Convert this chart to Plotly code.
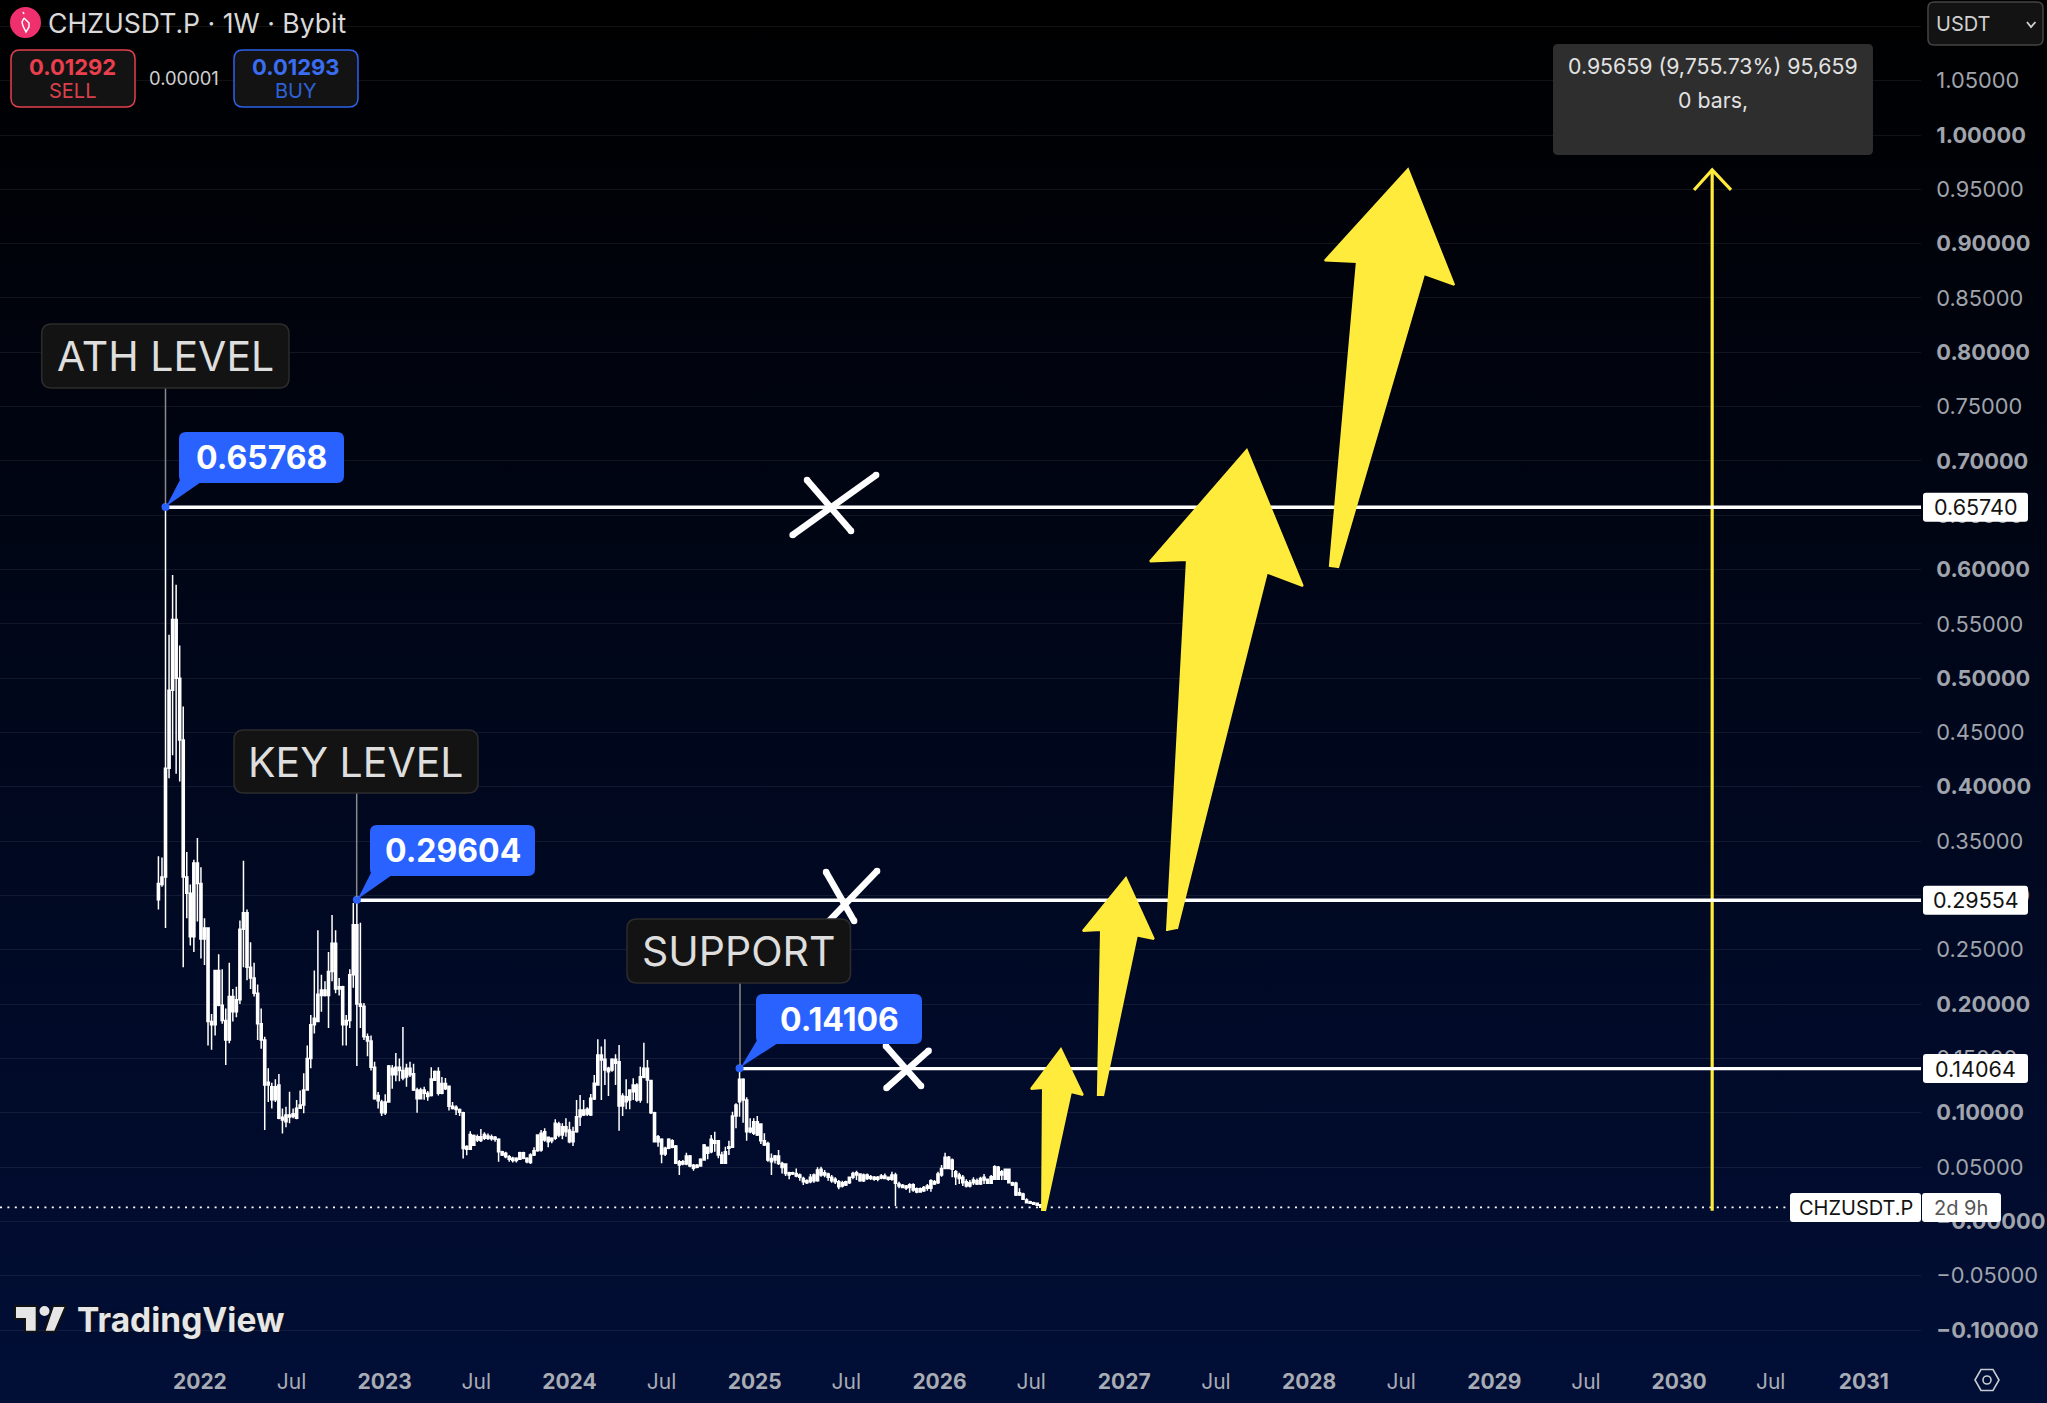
import pandas as pd
import plotly.graph_objects as go

# weekly candles (only the body extents can be told apart, all bars are white)
FIRST_WEEK = "2021-10-11"
HIGH = [
    .336,.335,.65768,.540,.595,.586,.530,.474,.340,.310,
    .333,.353,.326,.279,.270,.191,.231,.246,.232,.196,
    .238,.214,.216,.277,.332,.287,.257,.238,.218,.196,
    .170,.141,.1277,.1308,.1357,.104,.1056,.1194,.104,.1118,
    .1204,.1363,.162,.190,.231,.268,.227,.221,.248,.282,
    .268,.224,.217,.190,.232,.293,.29604,.275,.201,.173,
    .171,.147,.119,.112,.117,.144,.144,.155,.150,.179,
    .145,.147,.145,.123,.123,.124,.120,.142,.139,.142,
    .133,.132,.125,.110,.107,.104,.101,.070,.083,.080,
    .080,.085,.082,.081,.080,.0786,.0765,.0650,.0642,.0612,
    .0596,.0590,.0642,.0642,.0590,.0627,.0682,.0795,.0841,.0857,
    .0780,.0774,.0940,.0918,.0903,.0949,.0918,.0872,.1118,.1164,
    .1118,.1050,.1173,.1348,.1676,.1609,.1676,.1424,.1501,.1538,
    .1624,.1179,.1308,.1216,.1317,.1271,.1424,.1645,.1486,.1302,
    .1010,.0795,.0765,.0688,.0765,.0755,.0703,.0565,.0565,.0633,
    .0611,.0528,.0528,.0581,.0713,.0688,.0795,.0826,.0749,.0642,
    .0688,.0743,.1010,.1087,.14106,.1317,.1142,.0949,.0949,.0970,
    .0903,.0811,.0734,.0626,.0611,.0657,.0550,.0534,.0458,.0458,
    .0488,.0442,.0412,.0387,.0436,.0442,.0498,.0504,.0473,.0448,
    .0427,.0406,.0381,.0375,.0375,.0412,.0458,.0467,.0442,.0442,
    .0442,.0427,.0418,.0418,.0436,.0442,.0412,.0458,.0448,.0366,
    .0344,.0335,.0350,.0350,.0313,.0313,.0326,.0344,.0387,.0381,
    .0458,.0519,.0633,.0602,.0580,.0473,.0448,.0427,.0387,.0381,
    .0406,.0396,.0412,.0436,.0396,.0427,.0516,.0510,.0473,.0488,
    .0488,.0366,.0366,.0304,.0264,.0212,.0191,.0181,.0172,.0160,
]
BODY_HIGH = [
    .311,.317,.417,.489,.554,.554,.500,.443,.317,.302,
    .330,.330,.311,.270,.270,.184,.231,.231,.199,.185,
    .207,.207,.204,.269,.284,.284,.234,.224,.210,.182,
    .167,.128,.124,.124,.1256,.0958,.098,.098,.099,.1041,
    .1072,.121,.150,.181,.187,.209,.213,.213,.230,.256,
    .256,.216,.216,.185,.227,.273,.273,.200,.198,.170,
    .166,.142,.116,.110,.110,.143,.141,.142,.142,.139,
    .141,.141,.136,.121,.121,.121,.118,.131,.138,.138,
    .127,.127,.1245,.106,.105,.103,.100,.069,.080,.079,
    .078,.078,.080,.0786,.0780,.0774,.0756,.0642,.0627,.0596,
    .0581,.0581,.0633,.0633,.0581,.0612,.0651,.0795,.0811,.0826,
    .0774,.0765,.0903,.0897,.0872,.0872,.0841,.0826,.0964,.1026,
    .1026,.1032,.1133,.1271,.1532,.1532,.1492,.1409,.1492,.1492,
    .1470,.1154,.1148,.1210,.1256,.1256,.1332,.1409,.1409,.1296,
    .1001,.0780,.0755,.0673,.0755,.0743,.0694,.0550,.0550,.0602,
    .0602,.0516,.0516,.0571,.0703,.0682,.0755,.0743,.0743,.0611,
    .0642,.0688,.0970,.1072,.1308,.1308,.1118,.0857,.0918,.0918,
    .0897,.0743,.0718,.0580,.0602,.0602,.0534,.0528,.0448,.0448,
    .0442,.0427,.0396,.0375,.0406,.0427,.0473,.0479,.0448,.0436,
    .0406,.0387,.0366,.0356,.0366,.0406,.0442,.0448,.0436,.0427,
    .0427,.0412,.0406,.0406,.0418,.0418,.0406,.0427,.0427,.0344,
    .0332,.0326,.0338,.0338,.0301,.0301,.0313,.0326,.0375,.0366,
    .0436,.0488,.0590,.0590,.0565,.0458,.0427,.0406,.0366,.0356,
    .0381,.0375,.0396,.0406,.0387,.0412,.0504,.0498,.0458,.0479,
    .0479,.0356,.0350,.0264,.0252,.0197,.0181,.0172,.0166,.0154,
]
BODY_LOW = [
    .296,.310,.317,.417,.489,.500,.443,.317,.302,.262,
    .262,.311,.260,.260,.184,.181,.181,.199,.185,.167,
    .167,.193,.193,.204,.269,.234,.224,.210,.182,.167,
    .1256,.1256,.112,.112,.0949,.0934,.0918,.096,.0965,.0949,
    .1041,.1072,.121,.150,.181,.184,.208,.208,.208,.230,
    .214,.214,.181,.181,.185,.227,.200,.198,.170,.166,
    .142,.113,.111,.100,.100,.110,.135,.135,.139,.132,
    .133,.135,.121,.113,.113,.118,.115,.116,.130,.118,
    .118,.122,.106,.104,.103,.1005,.067,.0665,.0665,.070,
    .075,.0745,.0765,.0765,.0760,.0757,.0642,.0612,.0596,.0572,
    .0560,.0560,.0572,.0581,.0550,.0541,.0611,.0651,.0657,.0749,
    .0734,.0743,.0765,.0795,.0795,.0826,.0734,.0734,.0826,.0964,
    .0979,.0989,.0979,.1127,.1256,.1486,.1394,.1378,.1394,.1455,
    .1062,.1062,.1102,.1118,.1194,.1118,.1118,.1326,.1302,.1001,
    .0734,.0734,.0620,.0620,.0673,.0682,.0535,.0519,.0528,.0528,
    .0510,.0489,.0498,.0510,.0565,.0627,.0642,.0719,.0611,.0535,
    .0535,.0673,.0682,.0970,.1102,.1118,.0826,.0826,.0811,.0795,
    .0743,.0703,.0565,.0550,.0565,.0534,.0497,.0442,.0427,.0436,
    .0418,.0406,.0366,.0356,.0366,.0375,.0375,.0427,.0427,.0406,
    .0375,.0366,.0320,.0326,.0335,.0356,.0406,.0427,.0375,.0375,
    .0396,.0396,.0387,.0387,.0399,.0396,.0387,.0387,.0350,.0326,
    .0313,.0307,.0313,.0289,.0270,.0270,.0283,.0304,.0304,.0344,
    .0356,.0427,.0488,.0488,.0479,.0412,.0396,.0356,.0326,.0326,
    .0356,.0344,.0344,.0381,.0350,.0350,.0387,.0387,.0427,.0387,
    .0356,.0335,.0243,.0243,.0203,.0172,.0166,.0157,.0148,.01292,
]
LOW = [
    .287,.308,.270,.408,.429,.412,.405,.234,.279,.254,
    .248,.276,.242,.236,.162,.158,.171,.198,.182,.144,
    .164,.184,.188,.200,.234,.222,.214,.207,.167,.159,
    .0842,.110,.104,.110,.094,.081,.0866,.0903,.0949,.094,
    .1041,.0995,.121,.141,.173,.184,.193,.207,.178,.221,
    .210,.208,.162,.162,.178,.215,.143,.178,.167,.152,
    .139,.112,.104,.097,.098,.110,.122,.129,.129,.130,
    .124,.133,.120,.100,.113,.112,.111,.115,.130,.116,
    .117,.121,.102,.103,.098,.097,.058,.061,.066,.070,
    .073,.073,.075,.075,.0743,.0734,.0550,.0602,.0581,.0550,
    .0541,.0541,.0566,.0572,.0535,.0529,.0602,.0642,.0642,.0734,
    .0682,.0719,.0749,.0774,.0755,.0780,.0719,.0694,.0817,.0878,
    .0970,.0970,.0970,.1118,.1256,.1118,.1256,.1154,.1378,.1256,
    .0835,.0970,.1032,.1032,.1118,.1102,.1093,.1317,.1087,.0989,
    .0734,.0688,.0535,.0602,.0663,.0673,.0528,.0427,.0516,.0516,
    .0498,.0467,.0489,.0504,.0559,.0571,.0627,.0642,.0581,.0535,
    .0535,.0611,.0682,.0857,.0964,.0909,.0743,.0811,.0795,.0786,
    .0713,.0694,.0550,.0427,.0534,.0519,.0442,.0418,.0387,.0427,
    .0406,.0375,.0335,.0344,.0350,.0356,.0366,.0412,.0406,.0375,
    .0356,.0344,.0295,.0313,.0326,.0344,.0387,.0381,.0366,.0363,
    .0381,.0381,.0375,.0369,.0387,.0387,.0375,.0375,.0142,.0304,
    .0304,.0289,.0264,.0274,.0258,.0264,.0270,.0283,.0274,.0335,
    .0344,.0412,.0479,.0479,.0406,.0335,.0344,.0326,.0313,.0313,
    .0335,.0335,.0335,.0344,.0344,.0344,.0381,.0381,.0381,.0381,
    .0350,.0326,.0234,.0234,.0197,.0166,.0160,.0151,.0142,.0125,
]

LAST_PRICE = 0.01292

# horizontal levels: price, week they start from, right-hand price tag, peak callout, caption
LEVEL_PRICES = [0.65740, 0.29554, 0.14064]
LEVEL_WEEKS = [2, 56, 164]
LEVEL_TAGS = ["0.65740", "0.29554", "0.14064"]
PEAK_PRICES = [0.65768, 0.29604, 0.14106]
PEAK_TEXTS = ["0.65768", "0.29604", "0.14106"]
CAPTIONS = ["ATH LEVEL", "KEY LEVEL", "SUPPORT"]

# yellow hand drawn arrows, (fractional year, price) of each corner
ARROW_A_YEARS = [2026.555, 2026.560, 2026.495, 2026.657, 2026.776, 2026.711, 2026.571]
ARROW_A_PRICES = [0.0096, 0.1228, 0.1219, 0.1587, 0.1163, 0.1191, 0.0096]
ARROW_B_YEARS = [2026.857, 2026.874, 2026.776, 2027.009, 2027.160, 2027.068, 2026.885]
ARROW_B_PRICES = [0.1154, 0.2682, 0.2673, 0.3161, 0.2599, 0.2632, 0.1154]
ARROW_C_YEARS = [2027.231, 2027.339, 2027.139, 2027.663, 2027.966, 2027.772, 2027.285]
ARROW_C_PRICES = [0.2673, 0.6088, 0.6074, 0.7101, 0.5849, 0.5973, 0.2692]
ARROW_D_YEARS = [2028.112, 2028.258, 2028.085, 2028.534, 2028.783, 2028.621, 2028.156]
ARROW_D_PRICES = [0.6024, 0.8831, 0.8844, 0.9687, 0.8620, 0.8721, 0.6015]

# white crosses on the levels, two strokes each
CROSS_YEARS = [
    [2025.205, 2025.657], [2025.283, 2025.521],
    [2025.402, 2025.662], [2025.538, 2025.386],
    [2025.713, 2025.941], [2025.710, 2025.900],
]
CROSS_PRICES = [
    [0.6318, 0.6870], [0.6824, 0.6355],
    [0.2765, 0.3225], [0.2765, 0.3216],
    [0.1228, 0.1571], [0.1614, 0.1246],
]

# price range measure
MEASURE_YEARS = [2030.179, 2030.179]
MEASURE_PRICES = [0.0098, 0.9678]
MEASURE_HEAD_YEARS = [2030.081, 2030.179, 2030.281]
MEASURE_HEAD_PRICES = [0.9494, 0.9678, 0.9494]
MEASURE_TEXTS = ["0.95659 (9,755.73%) 95,659", "0 bars,"]

Y_TICKS = [1.10, 1.05, 1.00, 0.95, 0.90, 0.85, 0.80, 0.75, 0.70, 0.65, 0.60, 0.55, 0.50,
           0.45, 0.40, 0.35, 0.30, 0.25, 0.20, 0.15, 0.10, 0.05, 0.00, -0.05, -0.10]
Y_LABELS = ["", "1.05000", "<b>1.00000</b>", "0.95000", "<b>0.90000</b>", "0.85000",
            "<b>0.80000</b>", "0.75000", "<b>0.70000</b>", "0.65000", "<b>0.60000</b>", "0.55000",
            "<b>0.50000</b>", "0.45000", "<b>0.40000</b>", "0.35000", "<b>0.30000</b>", "0.25000",
            "<b>0.20000</b>", "0.15000", "<b>0.10000</b>", "0.05000", "<b>−0.00000</b>", "−0.05000",
            "<b>−0.10000</b>"]
X_TICKS = ["2022-01-01", "2022-07-01", "2023-01-01", "2023-07-01", "2024-01-01", "2024-07-01",
           "2025-01-01", "2025-07-01", "2026-01-01", "2026-07-01", "2027-01-01", "2027-07-01",
           "2028-01-01", "2028-07-01", "2029-01-01", "2029-07-01", "2030-01-01", "2030-07-01",
           "2031-01-01"]
X_LABELS = ["<b>2022</b>", "Jul", "<b>2023</b>", "Jul", "<b>2024</b>", "Jul", "<b>2025</b>", "Jul",
            "<b>2026</b>", "Jul", "<b>2027</b>", "Jul", "<b>2028</b>", "Jul", "<b>2029</b>", "Jul",
            "<b>2030</b>", "Jul", "<b>2031</b>"]

WIDTH, HEIGHT = 2047, 1403
PANE_W, PANE_H = 1921, 1362
FONT = "Inter"
YELLOW = "#ffeb3b"
BLUE = "#2962ff"


def year_to_date(value):
    year = int(value)
    start = pd.Timestamp(year, 1, 1)
    days = (pd.Timestamp(year + 1, 1, 1) - start).days
    return start + pd.Timedelta(days=(value - year) * days)


def fx(px):
    return px / PANE_W


def fy(py):
    return 1 - py / PANE_H


def poly(points, close=True):
    path = "M" + " L".join(f"{fx(x):.5f},{fy(y):.5f}" for x, y in points)
    return path + (" Z" if close else "")


def rrect(x0, y0, x1, y1, r):
    corners = [
        f"M{fx(x0 + r):.5f},{fy(y0):.5f}", f"L{fx(x1 - r):.5f},{fy(y0):.5f}",
        f"Q{fx(x1):.5f},{fy(y0):.5f} {fx(x1):.5f},{fy(y0 + r):.5f}", f"L{fx(x1):.5f},{fy(y1 - r):.5f}",
        f"Q{fx(x1):.5f},{fy(y1):.5f} {fx(x1 - r):.5f},{fy(y1):.5f}", f"L{fx(x0 + r):.5f},{fy(y1):.5f}",
        f"Q{fx(x0):.5f},{fy(y1):.5f} {fx(x0):.5f},{fy(y1 - r):.5f}", f"L{fx(x0):.5f},{fy(y0 + r):.5f}",
        f"Q{fx(x0):.5f},{fy(y0):.5f} {fx(x0 + r):.5f},{fy(y0):.5f}", "Z",
    ]
    return " ".join(corners)


shapes = []
notes = []


def box(x0, y0, x1, y1, r, fill, border=None, lw=1.5):
    shapes.append(dict(type="path", path=rrect(x0, y0, x1, y1, r), xref="paper", yref="paper", layer="above",
                       fillcolor=fill, line=dict(color=border or fill, width=lw if border else 0)))


def draw(points, fill=None, color=None, lw=0, close=True):
    shapes.append(dict(type="path", path=poly(points, close), xref="paper", yref="paper", layer="above",
                       fillcolor=fill or "rgba(0,0,0,0)", line=dict(color=color or "rgba(0,0,0,0)", width=lw)))


def text(x, y, s, size, color, weight=400, anchor="center", shadow=None):
    font = dict(family=FONT, size=size, color=color, weight=weight)
    if shadow:
        font["shadow"] = shadow
    notes.append(dict(xref="paper", yref="paper", x=fx(x), y=fy(y), text=s, showarrow=False, xanchor=anchor,
                      yanchor="middle", font=font))


weeks = pd.date_range(FIRST_WEEK, periods=len(HIGH), freq="7D")
x_end = year_to_date(2022 + (PANE_W - 200) / 184.87)
x_start = year_to_date(2022 - 200 / 184.87)

fig = go.Figure()
fig.add_trace(go.Candlestick(
    x=weeks, open=BODY_LOW, high=HIGH, low=LOW, close=BODY_HIGH, whiskerwidth=0, showlegend=False,
    increasing=dict(line=dict(color="#ffffff", width=1.5), fillcolor="#ffffff"),
    decreasing=dict(line=dict(color="#ffffff", width=1.5), fillcolor="#ffffff"),
))

# last price dotted line, stops at the symbol tag
fig.add_trace(go.Scatter(x=[x_start, year_to_date(2030.6)], y=[LAST_PRICE, LAST_PRICE], mode="lines", showlegend=False,
                         line=dict(color="#ffffff", width=1.6, dash="2px,5.4px")))

# measure tool
fig.add_trace(go.Scatter(x=[year_to_date(v) for v in MEASURE_YEARS], y=MEASURE_PRICES, mode="lines",
                         line=dict(color=YELLOW, width=3.2), showlegend=False))
fig.add_trace(go.Scatter(x=[year_to_date(v) for v in MEASURE_HEAD_YEARS], y=MEASURE_HEAD_PRICES, mode="lines",
                         line=dict(color=YELLOW, width=3.2), showlegend=False))

for price, week in zip(LEVEL_PRICES, LEVEL_WEEKS):
    fig.add_trace(go.Scatter(x=[weeks[week], x_end], y=[price, price], mode="lines",
                             line=dict(color="#ffffff", width=3.4), showlegend=False))

fig.add_trace(go.Scatter(x=[weeks[w] for w in LEVEL_WEEKS], y=PEAK_PRICES, mode="markers", showlegend=False,
                         marker=dict(color=BLUE, size=8)))

# crosses get end markers so the strokes finish round
for xs, ys in zip(CROSS_YEARS, CROSS_PRICES):
    fig.add_trace(go.Scatter(x=[year_to_date(v) for v in xs], y=ys, mode="lines+markers", showlegend=False,
                             line=dict(color="#ffffff", width=6.5), marker=dict(color="#ffffff", size=6.5)))

for xs, ys in [(ARROW_A_YEARS, ARROW_A_PRICES), (ARROW_B_YEARS, ARROW_B_PRICES),
               (ARROW_C_YEARS, ARROW_C_PRICES), (ARROW_D_YEARS, ARROW_D_PRICES)]:
    fig.add_trace(go.Scatter(x=[year_to_date(v) for v in xs], y=ys, mode="lines", fill="toself", fillcolor=YELLOW,
                             line=dict(color=YELLOW, width=2), showlegend=False))

# captions and callouts above the peaks, positions in screen pixels
caption_boxes = [(41.7, 324, 289, 388), (234, 730, 478, 793), (627, 919, 850.5, 983)]
peak_px = [(165.5, 507), (356.7, 900), (740, 1068)]
callout_boxes = [(179, 432, 344, 483), (370, 825, 535, 876), (756, 994, 922, 1044)]
for cap, cbox, peak, call, label in zip(CAPTIONS, caption_boxes, peak_px, callout_boxes, PEAK_TEXTS):
    # X marks cross under the caption and callout boxes, so these go in as layer above
    draw([(peak[0], cbox[3]), (peak[0], peak[1] - 3)], color="#8a8a8a", lw=1.5, close=False)
    box(*cbox, 10, "#131313", "#2c2c2c", 1.5)
    text((cbox[0] + cbox[2]) / 2, (cbox[1] + cbox[3]) / 2, cap, 41, "#dedede")
    draw([(call[0] + 3, call[3] - 7), (call[0] + 22, call[3] - 1), (peak[0] + 1, peak[1] - 1)], fill=BLUE)
    box(*call, 7, BLUE)
    text((call[0] + call[2]) / 2, (call[1] + call[3]) / 2, label, 32, "#ffffff", 700)

# price tags on the right
for price, tag in zip(LEVEL_PRICES, LEVEL_TAGS):
    py = 135 + (1 - price) * 1086.4
    box(1923, py - 14.5, 2028, py + 14.5, 3, "#ffffff")
    text(1975.5, py, tag, 21.5, "#131313")

box(1790, 1193, 1921, 1222, 3, "#ffffff")
text(1855.5, 1207.5, "CHZUSDT.P", 20, "#131313")
box(1922, 1193, 2001, 1222, 3, "#ffffff")
text(1961, 1208, "2d 9h", 20, "#555555")

# measure tooltip
box(1553, 44, 1873, 155, 5, "#2e2e2e")
text(1713, 66, MEASURE_TEXTS[0], 21.3, "#e2e2e2")
text(1713, 100, MEASURE_TEXTS[1], 21.3, "#e2e2e2")

# header
shapes.append(dict(type="circle", xref="paper", yref="paper", layer="above", fillcolor="#f0306e", line=dict(width=0),
                   x0=fx(10), x1=fx(41), y0=fy(7), y1=fy(38)))
draw([(23, 12), (24, 14)], color="#ffffff", lw=1.5, close=False)
draw([(24, 18), (29, 23), (29, 27), (26, 32), (23, 26), (22, 22), (24, 18)], color="#ffffff", lw=1.5, close=False)
text(46, 23, "CHZUSDT.P · 1W · Bybit", 26.6, "#d9d9d9", anchor="left")
box(11, 50, 135, 107, 9, "#131313", "#e5404f", 1.5)
text(72, 67, "0.01292", 22, "#ea3f4e", 700)
text(72, 91, "SELL", 20, "#d8404c")
text(184, 78.5, "0.00001", 18.4, "#d0d0d0")
box(234, 50, 358, 107, 9, "#131313", "#2e62ea", 1.5)
text(296, 67, "0.01293", 22, "#3a6df0", 700)
text(296, 91, "BUY", 20, "#2e62d8")

box(1928, 2, 2043, 45, 6, "#131313", "#444444", 1.5)
text(1934, 24, "USDT", 20, "#d0d0d0", anchor="left")
draw([(2027, 22), (2031, 27), (2035.5, 22)], color="#d0d0d0", lw=1.8, close=False)

# TradingView mark
draw([(15, 1306), (36.7, 1306), (36.7, 1331.7), (25, 1331.7), (25, 1319), (15, 1319)], fill="#e6e6e6", color="#121212", lw=2)
draw([(53, 1306), (66, 1306), (55, 1331.7), (44.3, 1331.7)], fill="#e6e6e6", color="#121212", lw=2)
shapes.append(dict(type="circle", xref="paper", yref="paper", layer="above", fillcolor="#e6e6e6", line=dict(width=0),
                   x0=fx(39.5), x1=fx(49.5), y0=fy(1306), y1=fy(1316)))
text(75, 1320, "TradingView", 33.5, "#e6e6e6", 700, anchor="left", shadow="0 0 3px #111111")

# settings cog
draw([(1975, 1380), (1981, 1369.5), (1993, 1369.5), (1999, 1380), (1993, 1390.5), (1981, 1390.5)], color="#c8ccd2", lw=1.6)
shapes.append(dict(type="circle", xref="paper", yref="paper", layer="above", line=dict(color="#c8ccd2", width=1.6),
                   x0=fx(1983), x1=fx(1991), y0=fy(1376), y1=fy(1384)))

fig.update_layout(
    width=WIDTH,
    height=HEIGHT,
    margin=dict(l=0, r=WIDTH - PANE_W, t=0, b=HEIGHT - PANE_H),
    paper_bgcolor="rgba(0,0,0,0)",
    plot_bgcolor="rgba(0,0,0,0)",
    boxgap=0.4,
    boxgroupgap=0,
    showlegend=False,
    shapes=shapes,
    annotations=notes,
    font=dict(family=FONT),
    xaxis=dict(
        type="date", range=[x_start, x_end], rangeslider=dict(visible=False), showgrid=False, zeroline=False,
        tickmode="array", tickvals=X_TICKS, ticktext=X_LABELS, ticks="outside", ticklen=1, tickcolor="rgba(0,0,0,0)",
        tickfont=dict(family=FONT, size=21, color="#a8acb4"), showline=False,
    ),
    yaxis=dict(
        side="right", range=[-0.12942, 1.12426], showgrid=True, gridcolor="rgba(255,255,255,0.07)", gridwidth=1,
        zeroline=False, tickmode="array", tickvals=Y_TICKS, ticktext=Y_LABELS, ticks="outside", ticklen=10,
        tickcolor="rgba(0,0,0,0)", tickfont=dict(family=FONT, size=21.8, color="#a0a4ac"), showline=False,
    ),
)

page_style = "margin:0;overflow:hidden;background:linear-gradient(#000000,#010e36)"
fig.write_html("out.html", config=dict(displayModeBar=False), post_script=f"document.body.style.cssText='{page_style}';")
